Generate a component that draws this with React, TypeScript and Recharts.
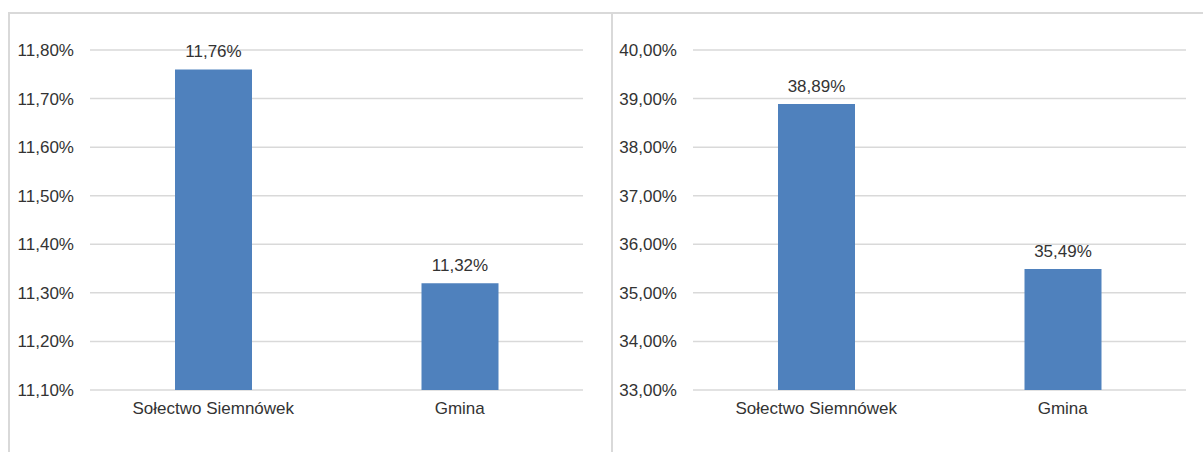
import { BarChart, Bar, XAxis, YAxis, CartesianGrid, LabelList } from 'recharts';

const categories = ['Sołectwo Siemnówek', 'Gmina'];
const leftValues = [11.76, 11.32];
const rightValues = [38.89, 35.49];
const leftTicks = [11.1, 11.2, 11.3, 11.4, 11.5, 11.6, 11.7, 11.8];
const rightTicks = [33, 34, 35, 36, 37, 38, 39, 40];

const BAR_COLOR = '#4F81BD';
const GRID_COLOR = '#D9D9D9';
const TEXT_COLOR = '#333333';
const FONT = { fontFamily: '"Liberation Sans", Arial, sans-serif', fontSize: 17, fill: TEXT_COLOR };

const pct = (v: number) => `${v.toFixed(2).replace('.', ',')}%`;

function PercentBars({ values, ticks }: { values: number[]; ticks: number[] }) {
  const data = categories.map((name, i) => ({ name, value: values[i] }));
  return (
    <BarChart
      width={610}
      height={452}
      data={data}
      margin={{ top: 50, right: 27, bottom: 32, left: 0 }}
    >
      <CartesianGrid vertical={false} stroke={GRID_COLOR} strokeWidth={1.5} />
      <XAxis
        dataKey="name"
        height={30}
        axisLine={false}
        tickLine={false}
        tickSize={0}
        tickMargin={12}
        tick={FONT}
        interval={0}
      />
      <YAxis
        type="number"
        domain={[ticks[0], ticks[ticks.length - 1]]}
        ticks={ticks}
        width={90}
        axisLine={false}
        tickLine={false}
        tickSize={0}
        tickMargin={16}
        tick={FONT}
        tickFormatter={pct}
      />
      <Bar dataKey="value" fill={BAR_COLOR} barSize={77} isAnimationActive={false}>
        <LabelList dataKey="value" position="top" offset={12} formatter={(v: any) => pct(Number(v))} style={FONT} />
      </Bar>
    </BarChart>
  );
}

export default function App() {
  return (
    <div style={{ position: 'absolute', left: 0, top: 0, width: 1203, height: 452, background: '#fff', overflow: 'hidden' }}>
      {/* frame */}
      <div style={{ position: 'absolute', left: 8, top: 12, width: 1195, height: 440, borderTop: '2px solid #D9D9D9', borderLeft: '2px solid #D9D9D9', boxSizing: 'border-box' }} />
      <div style={{ position: 'absolute', left: 611, top: 12, width: 2, height: 440, background: '#D9D9D9' }} />
      <div style={{ position: 'absolute', left: 0, top: 0 }}>
        <PercentBars values={leftValues} ticks={leftTicks} />
      </div>
      <div style={{ position: 'absolute', left: 603, top: 0 }}>
        <PercentBars values={rightValues} ticks={rightTicks} />
      </div>
    </div>
  );
}
